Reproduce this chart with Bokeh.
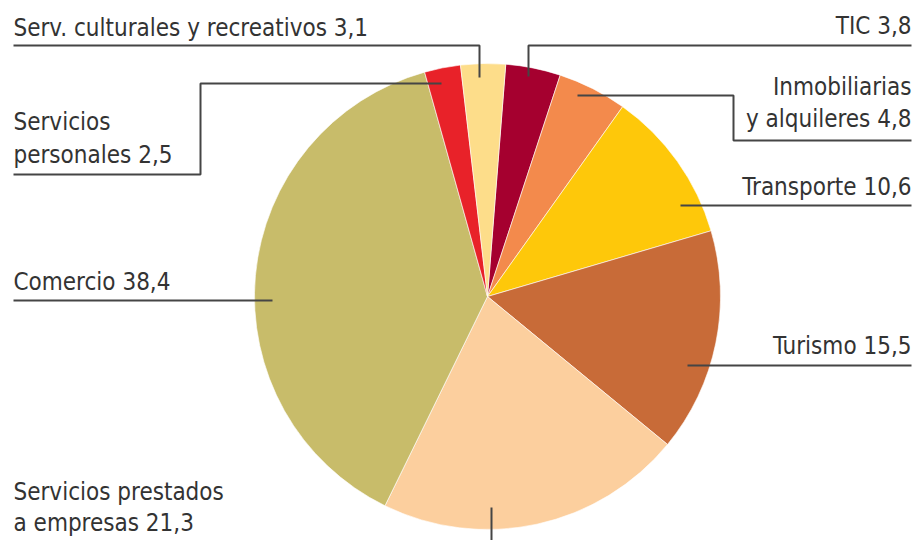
import numpy as np
from bokeh.plotting import figure
from bokeh.models import Range1d, ColumnDataSource
from bokeh.core.properties import value
from bokeh.embed import file_html
from bokeh.resources import INLINE

# ---- data (clockwise from top) ----
categories = ["TIC", "Inmobiliarias y alquileres", "Transporte", "Turismo",
              "Servicios prestados a empresas", "Comercio",
              "Servicios personales", "Serv. culturales y recreativos"]
shares = [3.8, 4.8, 10.6, 15.5, 21.3, 38.4, 2.5, 3.1]
colors = ["#A5002F", "#F38A4C", "#FEC80A", "#C86B38",
          "#FCCF9E", "#C8BC6A", "#E82229", "#FDDD8A"]

# ---- layout (page pixel coordinates, y measured from top) ----
W, H = 917, 540
CX, CY, R = 487, 296, 233
START_DEG = 4.5          # rotation of first slice, clockwise from 12 o'clock
FONT = "DejaVu Sans Condensed"
FS = "24px"
TXT = "#333333"
LINE = "#454545"
BASE_SHIFT = 9           # renderer draws text this much below the requested baseline

label_layout = {
    "TIC": (["TIC 3,8"], 911, [34], "right"),
    "Inmobiliarias y alquileres": (["Inmobiliarias", "y alquileres 4,8"], 911, [95, 127], "right"),
    "Transporte": (["Transporte 10,6"], 911, [195], "right"),
    "Turismo": (["Turismo 15,5"], 911, [354], "right"),
    "Servicios prestados a empresas": (["Servicios prestados", "a empresas 21,3"], 13, [500, 531], "left"),
    "Comercio": (["Comercio 38,4"], 13, [290], "left"),
    "Servicios personales": (["Servicios", "personales 2,5"], 13, [130, 163], "left"),
    "Serv. culturales y recreativos": (["Serv. culturales y recreativos 3,1"], 13, [36], "left"),
}
leader_layout = {
    "TIC": ([911, 528, 528], [45, 45, 76]),
    "Inmobiliarias y alquileres": ([577, 733, 733, 911], [95, 95, 140, 140]),
    "Transporte": ([680, 911], [205, 205]),
    "Turismo": ([687, 911], [365, 365]),
    "Servicios prestados a empresas": ([491, 491], [507, 540]),
    "Comercio": ([13, 272], [300, 300]),
    "Servicios personales": ([13, 200, 200, 441], [174, 174, 83, 83]),
    "Serv. culturales y recreativos": ([13, 479, 479], [45, 45, 77]),
}

def fy(y):
    return H - y

p = figure(width=W, height=H, output_backend="svg", toolbar_location=None,
           x_range=Range1d(0, W), y_range=Range1d(0, H), min_border=0)
p.axis.visible = False
p.grid.visible = False
p.outline_line_color = None
p.background_fill_color = "white"
p.border_fill_color = "white"

vals = np.array(shares)
cum = np.concatenate([[0], np.cumsum(vals)]) / vals.sum() * 2 * np.pi
a0 = np.radians(START_DEG) + cum[:-1]
a1 = np.radians(START_DEG) + cum[1:]
src = ColumnDataSource(dict(cat=categories, color=colors,
                            start=np.pi / 2 - a1, end=np.pi / 2 - a0))
p.wedge(x=CX, y=fy(CY), radius=R, start_angle="start", end_angle="end",
        fill_color="color", line_color="white", line_width=0.6, source=src)

for cat in categories:
    xs, ys = leader_layout[cat]
    p.line(xs, [fy(y) for y in ys], line_color=LINE, line_width=2)
    lines, ax, bases, align = label_layout[cat]
    p.text(x=[ax] * len(lines), y=[fy(b - BASE_SHIFT) for b in bases], text=lines,
           text_font=value(FONT), text_font_size=FS, text_color=TXT,
           text_align=align, text_baseline="alphabetic")

open("out.html", "w").write(file_html(p, INLINE))
